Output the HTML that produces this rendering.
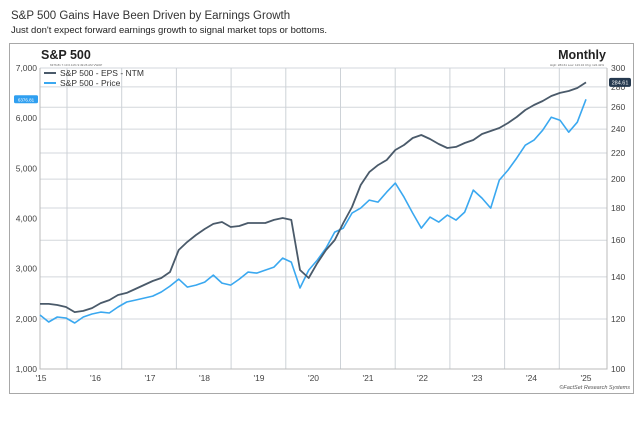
<!DOCTYPE html>
<html><head><meta charset="utf-8"><style>
body{margin:0;background:#fff;width:640px;height:416px;overflow:hidden;font-family:"Liberation Sans",Arial,sans-serif}
svg text{font-family:"Liberation Sans",Arial,sans-serif}
</style></head><body>
<svg id="chart" width="640" height="416" xmlns="http://www.w3.org/2000/svg">
<text x="11" y="19" font-size="11.5" fill="#333">S&amp;P 500 Gains Have Been Driven by Earnings Growth</text>
<text x="11" y="33" font-size="9.5" fill="#222">Just don't expect forward earnings growth to signal market tops or bottoms.</text>
<rect x="9.5" y="43.5" width="624" height="350" fill="#fff" stroke="#a8a8a8"/>
<text x="41" y="59" font-size="12.5" font-weight="bold" fill="#222">S&amp;P 500</text>
<text x="606" y="59" font-size="12.5" font-weight="bold" fill="#222" text-anchor="end">Monthly</text>
<text x="50" y="66" font-size="3" fill="#666">6376.81 7.10 0.11% 9:49:26 AM VWAP</text>
<text x="604" y="66" font-size="3" fill="#666" text-anchor="end">High: 284.61 Low: 123.34 Chg: 124.42%</text>
<g id="grid"></g><g id="axes"></g><g id="series"></g>
<g>
<line x1="44" y1="73" x2="56" y2="73" stroke="#4a5a6a" stroke-width="2"/>
<text x="60" y="76" font-size="8.5" fill="#333">S&amp;P 500 - EPS - NTM</text>
<line x1="44" y1="83" x2="56" y2="83" stroke="#3aa8f0" stroke-width="2"/>
<text x="60" y="86" font-size="8.5" fill="#333">S&amp;P 500 - Price</text>
</g>
<text x="630" y="389" font-size="5.5" font-style="italic" fill="#555" text-anchor="end">©FactSet Research Systems</text>
</svg>
<script>
const yearLabels=["'15","'16","'17","'18","'19","'20","'21","'22","'23","'24","'25"];
const leftTicks=[1000,2000,3000,4000,5000,6000,7000];
const rightTicks=[100,120,140,160,180,200,220,240,260,280,300];
const price=[2076,1936,2036,2016,1916,2036,2096,2135,2116,2235,2335,2374,2414,2454,2534,2653,2793,2633,2673,2733,2872,2713,2673,2793,2932,2912,2972,3032,3211,3131,2614,2972,3171,3410,3729,3809,4108,4207,4366,4327,4526,4705,4426,4108,3809,4028,3928,4068,3968,4127,4566,4406,4207,4765,4964,5203,5462,5562,5761,6020,5960,5721,5920,6376.81];
const eps=[126.8,126.8,126.3,125.4,123.1,123.6,124.9,127.2,128.6,131.0,132.0,133.9,135.9,137.9,139.4,142.5,154.4,159.0,163.1,166.7,169.8,171.0,167.9,168.5,170.4,170.4,170.4,172.3,173.5,172.3,143.5,139.4,147.2,154.4,160.1,170.4,180.6,195.7,205.2,210.5,214.4,222.4,226.5,232.4,234.9,231.5,227.3,224.0,224.9,228.2,230.7,235.8,238.4,241.0,245.4,250.9,257.4,262.1,266.0,270.9,273.9,275.8,278.9,284.61];
const X0=40,X1=607,YT=68,YB=369;
const xT=t=>40+52*t; // t = years since Jan 2015
const yL=v=>YB-(v-1000)/6000*(YB-YT);
const yR=v=>YB-(YB-YT)*Math.log(v/100)/Math.log(3);
const NS="http://www.w3.org/2000/svg";
function mk(tag,attrs,parent,txt){const e=document.createElementNS(NS,tag);for(const k in attrs)e.setAttribute(k,attrs[k]);if(txt!==undefined)e.textContent=txt;parent.appendChild(e);return e;}
const grid=document.getElementById('grid'),axes=document.getElementById('axes'),series=document.getElementById('series');
rightTicks.forEach(v=>{const l=mk('line',{x1:X0,x2:X1,y1:yR(v),y2:yR(v),stroke:'#d3d7dc','stroke-width':1},grid);


const t=mk('text',{x:X1+4,y:yR(v)+3,'font-size':8.5,fill:'#444'},axes,String(v));

});
yearLabels.forEach((s,i)=>{const gx=67+54.7*i;
if(i<10){const l=mk('line',{x1:gx,x2:gx,y1:YT,y2:YB,stroke:'#cdd2d7','stroke-width':1},grid);

}
const t=mk('text',{x:41+54.5*i,y:YB+12,'font-size':8.5,fill:'#444','text-anchor':'middle'},axes,s);

});
leftTicks.forEach(v=>{const t=mk('text',{x:X0-3,y:yL(v)+3,'font-size':8.5,fill:'#444','text-anchor':'end'},axes,v.toLocaleString('en-US'));

});
const ax=mk('path',{d:`M${X0},${YT}V${YB}H${X1}V${YT}`,fill:'none',stroke:'#bbb','stroke-width':1},axes);


const step=1/6;
const pp=price.map((v,i)=>`${xT(i*step).toFixed(1)},${yL(v).toFixed(1)}`).join(' ');
const ep=eps.map((v,i)=>`${xT(i*step).toFixed(1)},${yR(v).toFixed(1)}`).join(' ');
const l1=mk('polyline',{points:pp,fill:'none',stroke:'#3aa8f0','stroke-width':1.6,'stroke-linejoin':'round'},series);


const l2=mk('polyline',{points:ep,fill:'none',stroke:'#4a5a6a','stroke-width':1.8,'stroke-linejoin':'round'},series);


const lp=price[price.length-1],le=eps[eps.length-1];
const f1=mk('rect',{x:14,y:yL(lp)-4,width:24,height:8,rx:1.5,fill:'#2f9ff0'},axes);


const f1t=mk('text',{x:26,y:yL(lp)+2,'font-size':4.5,fill:'#fff','text-anchor':'middle'},axes,lp.toFixed(2));


const f2=mk('rect',{x:609,y:yR(le)-4.5,width:22,height:9,rx:2,fill:'#24384e'},axes);


const f2t=mk('text',{x:620,y:yR(le)+2,'font-size':5.5,fill:'#fff','text-anchor':'middle'},axes,le.toFixed(2));


</script>
</body></html>
